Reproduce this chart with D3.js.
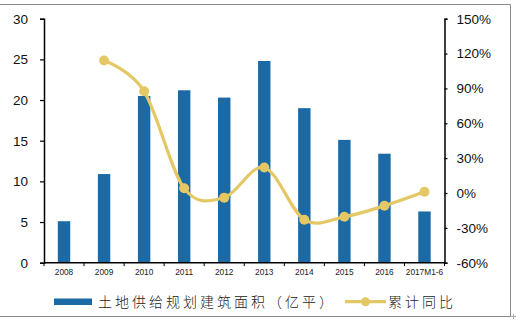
<!DOCTYPE html>
<html>
<head>
<meta charset="utf-8">
<script src="https://cdn.jsdelivr.net/npm/d3@7"></script>
<style>
  html, body { margin: 0; padding: 0; background: #fff; }
  svg { display: block; }
</style>
</head>
<body>
<svg id="chart" width="516" height="322"></svg>
<script>
// Land supply planned floor area (100 million m²) and cumulative YoY growth
const categories = ["2008", "2009", "2010", "2011", "2012", "2013", "2014", "2015", "2016", "2017M1-6"];
const areaValues = [5.1, 10.9, 20.5, 21.2, 20.3, 24.8, 19.0, 15.1, 13.4, 6.3];
const yoyValues = [null, 114, 87.5, 4, -4, 22, -23, -20.5, -11, 1];
const leftTicks = [0, 5, 10, 15, 20, 25, 30];
const rightTicks = [-60, -30, 0, 30, 60, 90, 120, 150];
const seriesNames = ["土地供给规划建筑面积（亿平）", "累计同比"];

const barColor = "#1B6AA5";
const lineColor = "#E5C866";

const svg = d3.select("#chart");
const plot = { left: 44, right: 444.5, top: 18.7, bottom: 262.7 };

const x = d3.scaleBand().domain(categories).range([plot.left, plot.right]).paddingInner(0.69).paddingOuter(0.345);
const xEdges = d3.scaleLinear().domain([0, categories.length]).range([plot.left, plot.right]);
const yL = d3.scaleLinear().domain([0, 30]).range([plot.bottom, plot.top]);
const yR = d3.scaleLinear().domain([-60, 150]).range([plot.bottom, plot.top]);

// frame lines
const frame = svg.append("g").attr("stroke", "#8a8a8a").attr("stroke-width", 1).attr("fill", "none");
frame.append("line").attr("x1", 0).attr("x2", 510.5).attr("y1", 4.5).attr("y2", 4.5);
frame.append("line").attr("x1", 0).attr("x2", 510.5).attr("y1", 316.5).attr("y2", 316.5);
frame.append("line").attr("x1", 510.5).attr("x2", 510.5).attr("y1", 4.5).attr("y2", 316.5);
svg.append("path").attr("d", "M511,316.5h5M513.5,314v5").attr("stroke", "#999").attr("stroke-width", 0.8);

// bars
svg.append("g").selectAll("rect").data(areaValues).join("rect")
  .attr("x", (d, i) => x(categories[i]))
  .attr("width", x.bandwidth())
  .attr("y", d => yL(d))
  .attr("height", d => yL(0) - yL(d))
  .attr("fill", barColor);

// left axis
const leftAxis = svg.append("g").attr("transform", `translate(${plot.left},0)`)
  .call(d3.axisLeft(yL).tickValues(leftTicks).tickSize(4).tickPadding(12));
// right axis
const rightAxis = svg.append("g").attr("transform", `translate(${plot.right},0)`)
  .call(d3.axisRight(yR).tickValues(rightTicks).tickSize(3).tickPadding(9).tickFormat(d => d + "%"));
[leftAxis, rightAxis].forEach(g => {
  g.select(".domain").attr("stroke", "#000").attr("stroke-width", 1.5);
  g.selectAll(".tick line").attr("stroke", "#000").attr("stroke-width", 1.2);
  g.selectAll("text").attr("font-family", "Liberation Sans, Arial, sans-serif").attr("font-size", 13.5).attr("fill", "#111");
});

// bottom axis with ticks on category boundaries
const bottom = svg.append("g");
bottom.append("line").attr("x1", plot.left).attr("x2", plot.right)
  .attr("y1", plot.bottom).attr("y2", plot.bottom).attr("stroke", "#000").attr("stroke-width", 1.5);
bottom.selectAll("line.tk").data(d3.range(categories.length + 1)).join("line").attr("class", "tk")
  .attr("x1", i => xEdges(i)).attr("x2", i => xEdges(i))
  .attr("y1", plot.bottom).attr("y2", plot.bottom + 3.5).attr("stroke", "#000").attr("stroke-width", 1);
bottom.selectAll("text").data(categories).join("text")
  .attr("x", d => x(d) + x.bandwidth() / 2).attr("y", 275)
  .attr("text-anchor", "middle").attr("font-family", "Liberation Sans, Arial, sans-serif")
  .attr("font-size", 8.3).attr("fill", "#222").text(d => d);

// smoothed YoY line
const linePts = yoyValues.map((v, i) => ({ c: categories[i], v })).filter(d => d.v !== null);
const line = d3.line()
  .x(d => x(d.c) + x.bandwidth() / 2)
  .y(d => yR(d.v))
  .curve(d3.curveCatmullRom.alpha(0));
svg.append("path").datum(linePts).attr("d", line)
  .attr("fill", "none").attr("stroke", lineColor).attr("stroke-width", 3.2).attr("stroke-linecap", "round");
svg.append("g").selectAll("circle").data(linePts).join("circle")
  .attr("cx", d => x(d.c) + x.bandwidth() / 2).attr("cy", d => yR(d.v))
  .attr("r", 5).attr("fill", lineColor);

// legend
const lg = svg.append("g");
const legendFont = "'Noto Sans CJK SC', sans-serif";
lg.append("rect").attr("x", 54).attr("y", 298.5).attr("width", 38).attr("height", 6.5).attr("fill", barColor);
lg.append("text").attr("x", 98).attr("y", 307).attr("font-family", legendFont).attr("font-size", 14)
  .attr("font-weight", 300).attr("letter-spacing", 3).attr("fill", "#222").text(seriesNames[0]);
lg.append("line").attr("x1", 345).attr("x2", 386).attr("y1", 301.7).attr("y2", 301.7)
  .attr("stroke", lineColor).attr("stroke-width", 3.2);
lg.append("circle").attr("cx", 365.5).attr("cy", 301.7).attr("r", 4.5).attr("fill", lineColor);
lg.append("text").attr("x", 388).attr("y", 307).attr("font-family", legendFont).attr("font-size", 14)
  .attr("font-weight", 300).attr("letter-spacing", 3).attr("fill", "#222").text(seriesNames[1]);
</script>
</body>
</html>
